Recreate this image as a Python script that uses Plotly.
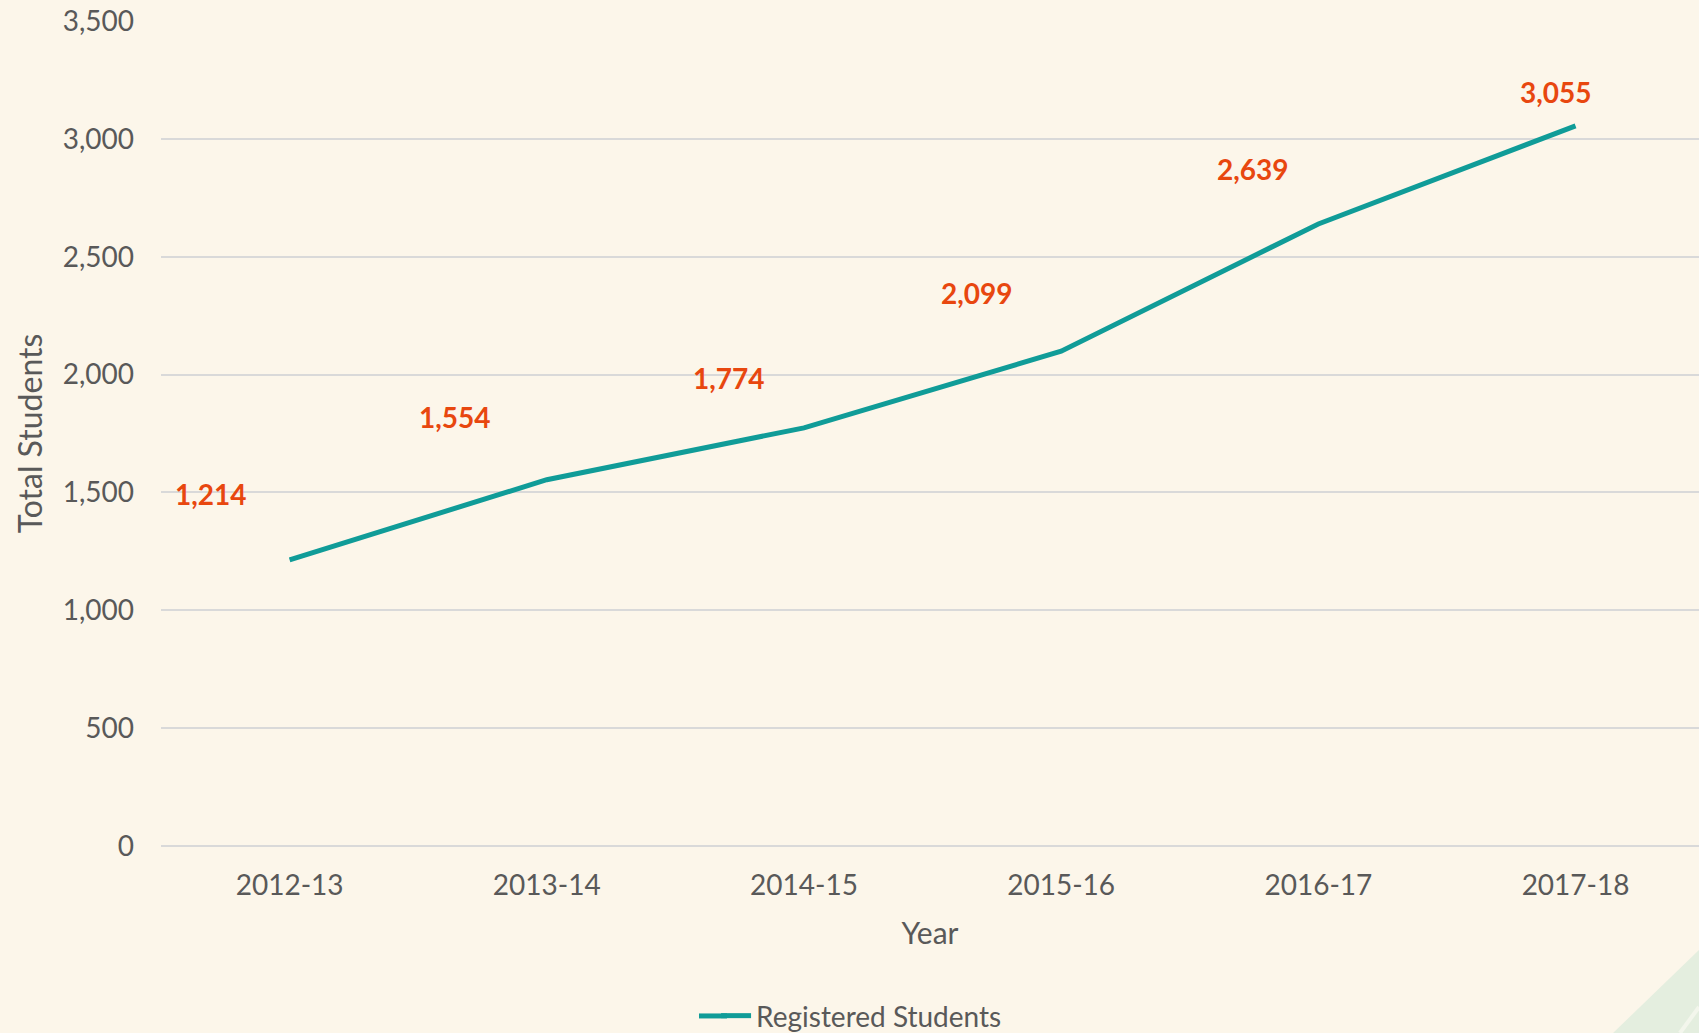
import plotly.graph_objects as go

years = ["2012-13", "2013-14", "2014-15", "2015-16", "2016-17", "2017-18"]
students = [1214, 1554, 1774, 2099, 2639, 3055]
series_name = "Registered Students"
y_ticks = [0, 500, 1000, 1500, 2000, 2500, 3000, 3500]

# label offsets in pixels (dx, dy), relative to each point
label_dx = [-79, -92, -75, -84, -65, -20]
label_dy = [66, 63, 50, 58, 55, 34]

BG = "#FCF6EA"
TEXT = "#595959"
GRID = "#D9D9D9"
LINE = "#109C98"
LABEL = "#E8470F"
FONT = "Lato"

fig = go.Figure()
fig.add_trace(go.Scatter(
    x=list(range(len(years))), y=students, mode="lines", name=series_name,
    line=dict(color=LINE, width=5), hoverinfo="x+y",
))

for i, (v, dx, dy) in enumerate(zip(students, label_dx, label_dy)):
    fig.add_annotation(
        x=i, y=v, xref="x", yref="y", text=f"<b>{v:,}</b>", showarrow=False,
        xshift=dx, yshift=dy, xanchor="center", yanchor="middle",
        font=dict(family=FONT, size=28, color=LABEL),
    )

# pale green corner decoration (paper coordinates)
fig.add_shape(type="path", xref="paper", yref="paper",
              path="M 0.9441 -0.2267 L 1.0 -0.1261 L 1.0 -0.2267 Z",
              fillcolor="#E4EEDF", line=dict(width=0), layer="below")
fig.add_shape(type="line", xref="paper", yref="paper",
              x0=0.9876, y0=-0.2267, x1=1.0, y1=-0.1952,
              line=dict(color="#F3F6EC", width=4), layer="below")

# longer legend key, as in the original
fig.add_shape(type="line", xref="paper", yref="paper",
              x0=0.3498, y0=-0.206, x1=0.368, y1=-0.206,
              line=dict(color=LINE, width=5))

fig.update_layout(
    width=1699, height=1033,
    margin=dict(l=161, r=0, t=21, b=187, autoexpand=False),
    paper_bgcolor=BG, plot_bgcolor=BG,
    font=dict(family=FONT, size=28, color=TEXT),
    showlegend=True,
    legend=dict(orientation="h", x=0.4555, xanchor="center", y=-0.206, yanchor="middle",
                font=dict(family=FONT, size=28, color=TEXT), bgcolor="rgba(0,0,0,0)"),
    xaxis=dict(
        tickmode="array", tickvals=list(range(len(years))), ticktext=years,
        range=[-0.5, 5.48], showgrid=False, zeroline=False, showline=False,
        ticks="", ticklabelstandoff=20, automargin=False,
        tickfont=dict(family=FONT, size=28, color=TEXT),
        title=dict(text="Year", font=dict(family=FONT, size=30, color=TEXT), standoff=22),
    ),
    yaxis=dict(
        range=[0, 3500], tickvals=y_ticks, tickformat=",d",
        showgrid=True, gridcolor=GRID, gridwidth=1.5,
        zeroline=True, zerolinecolor=GRID, zerolinewidth=1.5, showline=False,
        ticks="", ticklabelstandoff=26, automargin=False,
        tickfont=dict(family=FONT, size=28, color=TEXT),
        title=dict(text="Total Students", font=dict(family=FONT, size=32, color=TEXT), standoff=10),
    ),
)

fig.write_html("out.html", config={"displayModeBar": False},
               post_script="document.body.style.margin='0';document.body.style.overflow='hidden';")
